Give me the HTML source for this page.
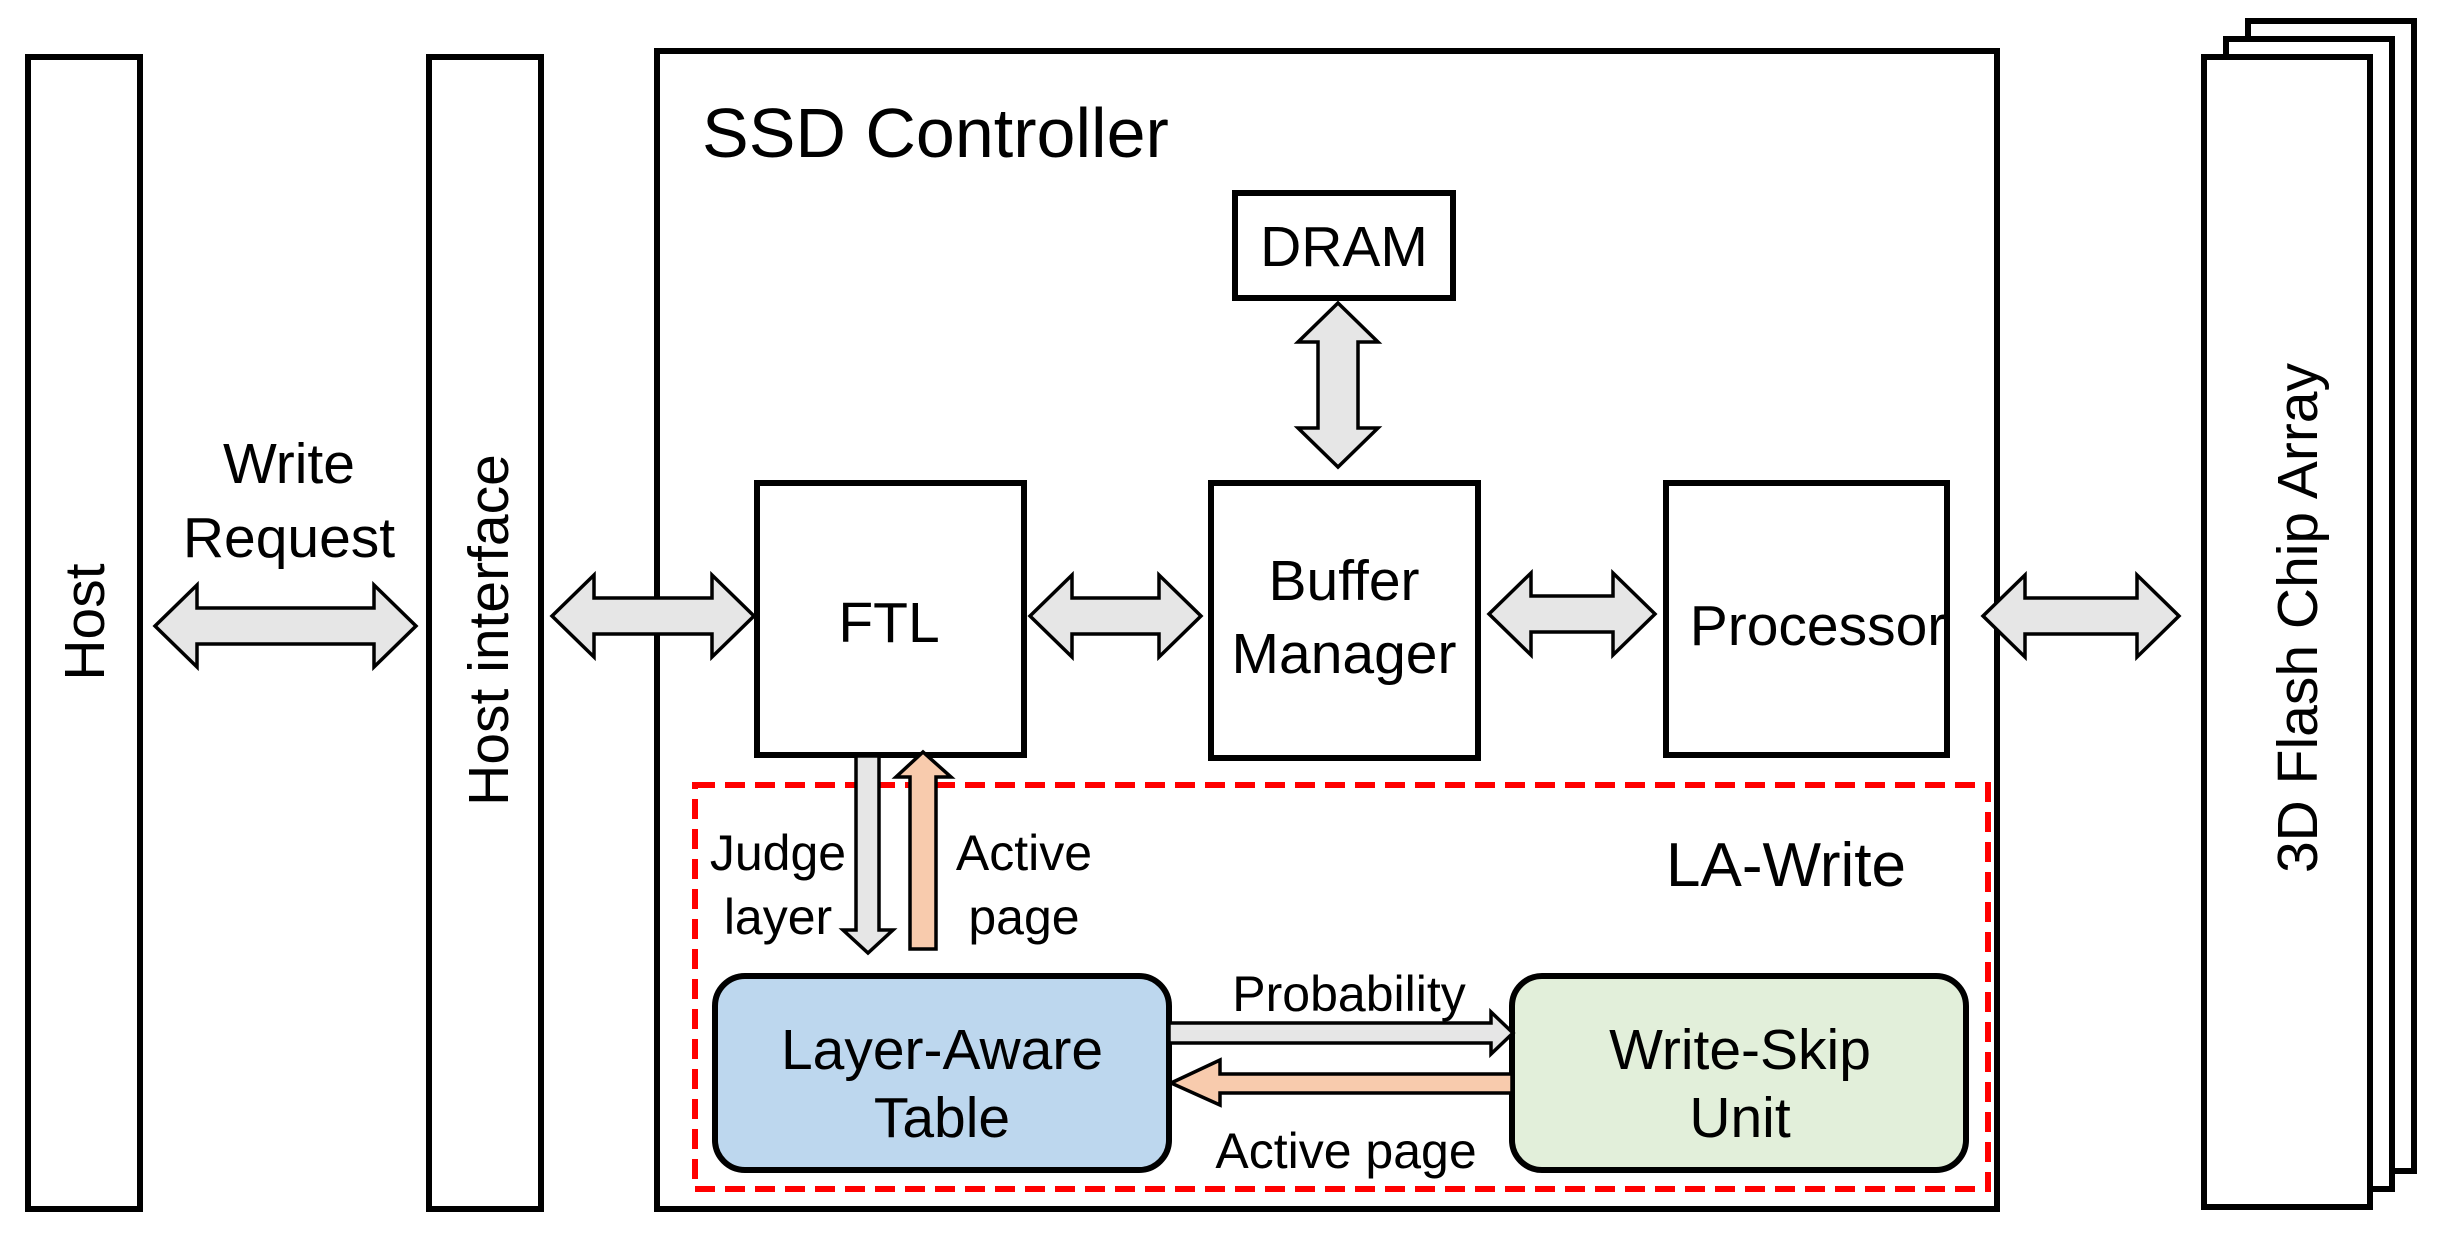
<!DOCTYPE html>
<html><head><meta charset="utf-8"><style>body{margin:0;background:#fff}svg{display:block}text{font-family:"Liberation Sans",Arial,sans-serif;fill:#000}</style></head>
<body>
<svg width="2437" height="1237" viewBox="0 0 2437 1237" xmlns="http://www.w3.org/2000/svg">
<g fill="#fff" stroke="#000" stroke-width="6">
<rect x="28" y="57" width="112" height="1152"/>
<rect x="429" y="57" width="112" height="1152"/>
<rect x="657" y="51" width="1340" height="1158"/>
<rect x="2248" y="21" width="166" height="1150"/>
<rect x="2226" y="39" width="166" height="1150"/>
<rect x="2204" y="57" width="166" height="1150"/>
<rect x="1235" y="193" width="218" height="105"/>
<rect x="757" y="483" width="267" height="272"/>
<rect x="1211" y="483" width="267" height="275"/>
<rect x="1666" y="483" width="281" height="272"/>
</g>
<rect x="695" y="785" width="1293" height="404" fill="none" stroke="#f00" stroke-width="6" stroke-dasharray="20,10"/>
<rect x="715" y="976" width="454" height="194" rx="30" fill="#bdd7ee" stroke="#000" stroke-width="6"/>
<rect x="1512" y="976" width="454" height="194" rx="30" fill="#e2efda" stroke="#000" stroke-width="6"/>
<g fill="#e6e6e6" stroke="#000" stroke-width="3.5">
<polygon points="155,626 197,585 197,608 374,608 374,585 416,626 374,667 374,644 197,644 197,667"/>
<polygon points="552,616 594,575 594,598 712,598 712,575 754,616 712,657 712,634 594,634 594,657"/>
<polygon points="1030,616 1072,575 1072,598 1159,598 1159,575 1201,616 1159,657 1159,634 1072,634 1072,657"/>
<polygon points="1489,614 1531,573 1531,596 1613,596 1613,573 1655,614 1613,655 1613,632 1531,632 1531,655"/>
<polygon points="1983,616 2025,575 2025,598 2137,598 2137,575 2179,616 2137,657 2137,634 2025,634 2025,657"/>
<polygon points="1338,303 1378,342 1358,342 1358,428 1378,428 1338,467 1298,428 1318,428 1318,342 1298,342"/>
<polygon points="856,756 879,756 879,930 893,930 868,953 843,930 856,930"/>
<polygon points="1169,1023 1491,1023 1491,1012 1513,1033 1491,1054 1491,1043 1169,1043"/>
</g>
<g fill="#f8cbad" stroke="#000" stroke-width="3.5">
<polygon points="910,949 936,949 936,777 951,777 923,752 896,777 910,777"/>
<polygon points="1512,1074 1512,1093 1220,1093 1220,1105 1171,1083 1220,1060 1220,1074"/>
</g>
<g font-size="57" text-anchor="middle">
<text x="84" y="622" transform="rotate(-90 84 622)" dy="20">Host</text>
<text x="488" y="630" transform="rotate(-90 488 630)" dy="20">Host interface</text>
<text x="2297" y="618" transform="rotate(-90 2297 618)" dy="20">3D Flash Chip Array</text>
<text x="289" y="483">Write</text>
<text x="289" y="557">Request</text>
<text x="889" y="642">FTL</text>
<text x="1344" y="600">Buffer</text>
<text x="1344" y="673">Manager</text>
<text x="1818" y="645">Processor</text>
<text x="1344" y="266">DRAM</text>
<text x="942" y="1069">Layer-Aware</text>
<text x="942" y="1137">Table</text>
<text x="1740" y="1069">Write-Skip</text>
<text x="1740" y="1137">Unit</text>
</g>
<text x="702" y="157" font-size="70">SSD Controller</text>
<text x="1786" y="886" font-size="62" text-anchor="middle">LA-Write</text>
<g font-size="50" text-anchor="middle">
<text x="778" y="870">Judge</text>
<text x="778" y="934">layer</text>
<text x="1024" y="870">Active</text>
<text x="1024" y="934">page</text>
<text x="1349" y="1011">Probability</text>
<text x="1346" y="1168">Active page</text>
</g>
</svg>
</body></html>
